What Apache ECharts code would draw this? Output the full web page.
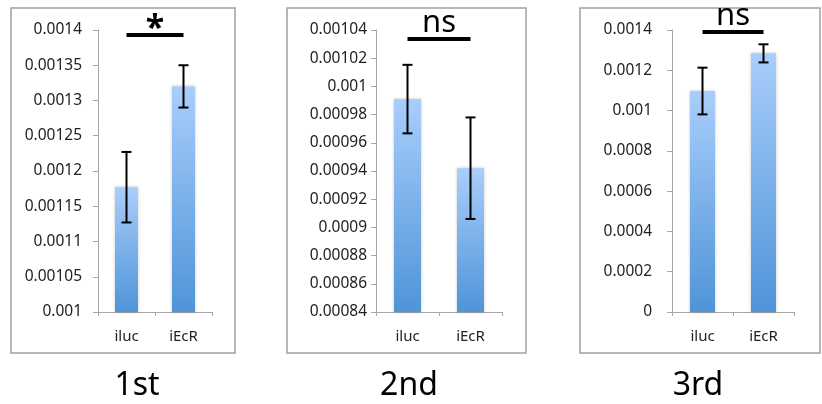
<!DOCTYPE html>
<html><head><meta charset="utf-8">
<script src="https://cdn.jsdelivr.net/npm/echarts@6/dist/echarts.min.js"></script>
<style>html,body{margin:0;padding:0;background:#fff}#c{width:822px;height:404px}</style>
</head><body><div id="c"></div>
<script>
const categories = ['iluc', 'iEcR'];
const panelTitles = ['1st', '2nd', '3rd'];
const values1 = [0.001177, 0.00132];
const errors1 = [0.00005, 0.00003];
const values2 = [0.000991, 0.000942];
const errors2 = [0.0000243, 0.000036];
const values3 = [0.001097, 0.001284];
const errors3 = [0.000116, 0.000045];
const axisMin = [0.001, 0.00084, 0];
const axisMax = [0.0014, 0.00104, 0.0014];
const axisStep = [0.00005, 0.00002, 0.0002];
const sigLabels = ['*', 'ns', 'ns'];
const sigLevel = [0.001393, 0.0010336, 0.00139];

const FONT = 'Noto Sans';
const panels = [
  {vals: values1, errs: errors1, grid: {left: 98, top: 30, width: 114, height: 282}, barW: 23, margin: 16, frame: [11, 8, 224, 345], titleX: 137},
  {vals: values2, errs: errors2, grid: {left: 376, top: 30, width: 126, height: 282}, barW: 27, margin: 9, frame: [287, 8, 239, 345], titleX: 409},
  {vals: values3, errs: errors3, grid: {left: 672, top: 30, width: 122, height: 282}, barW: 25, margin: 20, frame: [580, 8, 240, 345], titleX: 698}
];

const fmt = v => (v === 0 ? '0' : String(parseFloat(v.toPrecision(6))));

const option = {
  animation: false,
  grid: [], xAxis: [], yAxis: [], series: [], graphic: []
};

panels.forEach((p, i) => {
  option.grid.push(Object.assign({}, p.grid));
  option.xAxis.push({
    type: 'category', gridIndex: i, data: categories,
    axisLine: {lineStyle: {color: '#a6a6a6', width: 1}},
    axisTick: {show: true, length: 4, lineStyle: {color: '#a6a6a6'}},
    axisLabel: {fontFamily: FONT, fontSize: 15, color: '#222', margin: 17}
  });
  option.yAxis.push({
    type: 'value', gridIndex: i, min: axisMin[i], max: axisMax[i], interval: axisStep[i],
    axisLine: {show: true, lineStyle: {color: '#a6a6a6', width: 1}},
    axisTick: {show: true, length: 5, lineStyle: {color: '#a6a6a6'}},
    splitLine: {show: false},
    axisLabel: {fontFamily: FONT, fontSize: 15.5, color: '#222', margin: p.margin, formatter: fmt}
  });
  option.series.push({
    type: 'bar', xAxisIndex: i, yAxisIndex: i, data: p.vals, barWidth: p.barW,
    itemStyle: {
      color: {type: 'linear', x: 0, y: 0, x2: 0, y2: 1,
        colorStops: [{offset: 0, color: '#a9cefb'}, {offset: 1, color: '#4f94d9'}]},
      shadowColor: 'rgba(0,0,0,0.22)', shadowBlur: 3, shadowOffsetX: 0
    },
    markLine: {
      silent: true, symbol: 'none',
      lineStyle: {color: '#000', width: 4, type: 'solid'},
      label: {show: true, position: 'middle', formatter: sigLabels[i],
        fontFamily: FONT, fontSize: i === 0 ? 34 : 31, fontWeight: i === 0 ? 'bold' : 'normal',
        color: '#000', distance: i === 0 ? -11 : 0},
      data: [[{coord: [categories[0], sigLevel[i]]}, {coord: [categories[1], sigLevel[i]]}]]
    }
  });
  option.series.push({
    type: 'custom', xAxisIndex: i, yAxisIndex: i, z: 5,
    data: p.vals.map((v, k) => [k, v, p.errs[k]]),
    renderItem: function (params, api) {
      const x = api.value(0), v = api.value(1), e = api.value(2);
      const top = api.coord([x, v + e]);
      const bot = api.coord([x, v - e]);
      const hw = 5;
      const st = {stroke: '#000', lineWidth: 2};
      return {type: 'group', children: [
        {type: 'line', shape: {x1: top[0], y1: top[1], x2: bot[0], y2: bot[1]}, style: st},
        {type: 'line', shape: {x1: top[0] - hw, y1: top[1], x2: top[0] + hw, y2: top[1]}, style: st},
        {type: 'line', shape: {x1: bot[0] - hw, y1: bot[1], x2: bot[0] + hw, y2: bot[1]}, style: st}
      ]};
    }
  });
  option.graphic.push({
    type: 'rect', silent: true, z: -1,
    shape: {x: p.frame[0], y: p.frame[1], width: p.frame[2], height: p.frame[3]},
    style: {fill: 'none', stroke: '#a0a0a0', lineWidth: 1.5}
  });
  option.graphic.push({
    type: 'text', silent: true, x: p.titleX, y: 386,
    style: {text: panelTitles[i], font: '32px "Noto Sans"', fill: '#000', textAlign: 'center', textVerticalAlign: 'middle'}
  });
});

const chart = echarts.init(document.getElementById('c'), null, {renderer: 'canvas'});
chart.setOption(option);
</script>
</body></html>
